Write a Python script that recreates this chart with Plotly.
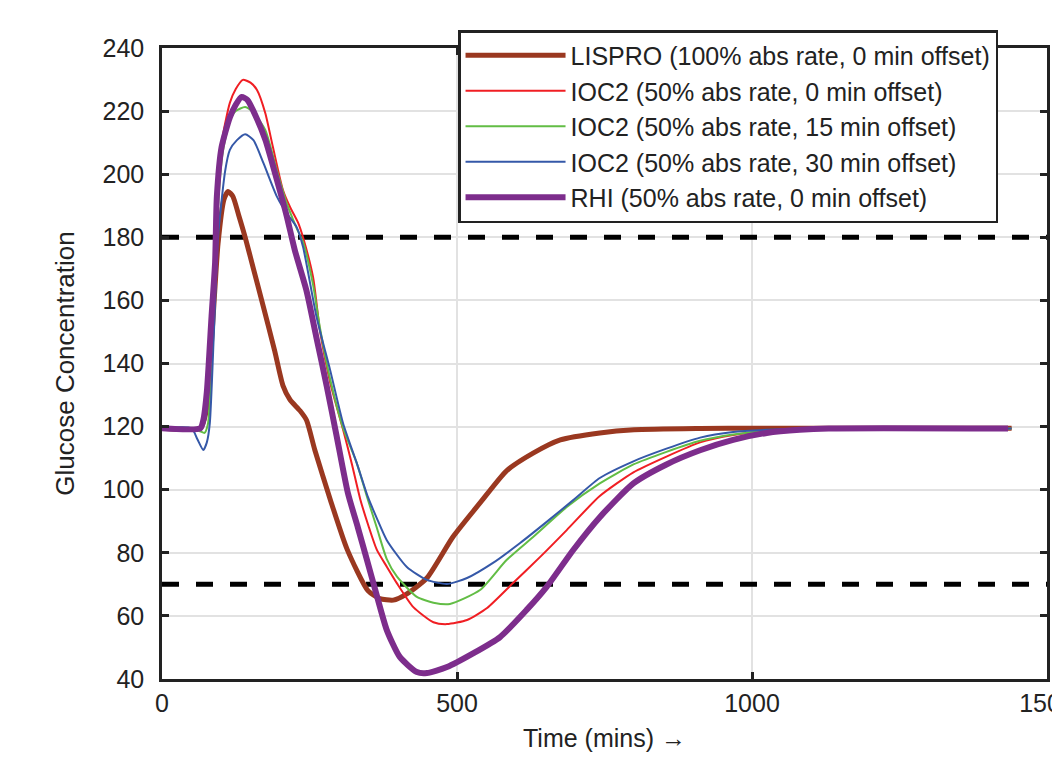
import plotly.graph_objects as go

# ---- data ----
lispro_t = [0, 65, 75, 85, 95, 105, 112, 120, 130, 141, 155, 169, 191, 205, 217, 234, 245, 259, 285, 314, 349, 369, 392, 415, 449, 493, 539, 584, 629, 675, 742, 800, 912, 1000, 1440]
lispro_g = [119.5, 119.5, 125, 150, 178, 192, 194.5, 193, 187, 180, 170, 160, 144, 133, 128.5, 125, 122, 112.6, 97, 81, 68, 65.5, 65, 67, 72, 85, 95.8, 106, 111.6, 115.8, 118, 119, 119.4, 119.5, 119.5]

ioc2_0_t = [0, 65, 70, 76, 84, 90, 95, 103, 115, 125, 137, 150, 161, 175, 188, 205, 217, 231, 239, 256, 268, 285, 307, 322, 336, 350, 364, 381, 398, 426, 460, 483, 517, 551, 595, 641, 686, 742, 799, 855, 912, 968, 1025, 1081, 1440]
ioc2_0_g = [119.5, 119.5, 122, 131, 155, 172, 195, 212, 222.6, 227, 229.9, 229, 226.7, 219.4, 208.6, 195, 189.6, 184.5, 180, 167.4, 150, 134, 119, 108, 97, 88.5, 81, 75.6, 70.4, 62.8, 58, 57.4, 58.7, 62.5, 70.4, 78.7, 87.2, 98, 105.5, 110.5, 115, 117.3, 118.6, 119.2, 119.4]

ioc2_15_t = [0, 50, 65, 72, 78, 84, 90, 95, 103, 115, 125, 141, 155, 175, 195, 211, 228, 239, 256, 268, 285, 307, 330, 347, 364, 381, 398, 432, 460, 488, 539, 584, 629, 686, 742, 799, 855, 912, 968, 1025, 1440]
ioc2_15_g = [119.5, 119.5, 118.5, 118, 121, 140, 165, 190, 207, 217, 220, 221.3, 219.5, 214, 201, 191, 183, 178.5, 165, 151, 135, 119.5, 108.5, 98, 88, 78, 72.5, 66, 64.2, 63.8, 68.2, 77.7, 85, 94.5, 102, 108, 112, 115.5, 117.5, 118.7, 119.4]

ioc2_30_t = [0, 50, 60, 70, 76, 81, 88, 95, 107, 115, 127, 141, 155, 172, 195, 211, 228, 239, 262, 285, 307, 330, 349, 364, 381, 415, 449, 483, 517, 561, 607, 652, 697, 742, 799, 855, 912, 968, 1025, 1081, 1440]
ioc2_30_g = [119.5, 119.5, 116, 112.6, 115, 121, 150, 180, 201, 207.7, 210.8, 212.7, 210.8, 203.5, 192.8, 187.7, 183.3, 177, 154.7, 137.9, 121, 108.5, 97.7, 91, 84, 75.5, 71.4, 70.1, 72, 76.8, 83.1, 89.8, 96.7, 103.7, 109, 113, 116.5, 118.3, 119, 119.3, 119.4]

rhi_t = [0, 65, 70, 76, 84, 90, 93, 101, 115, 125, 135, 145, 155, 175, 195, 211, 225, 245, 262, 279, 296, 315, 332, 347, 364, 381, 403, 432, 449, 483, 528, 573, 618, 652, 697, 742, 799, 855, 912, 968, 1025, 1081, 1130, 1434]
rhi_g = [119.5, 119.5, 122, 131, 155, 172, 193, 208.6, 218, 222, 224.5, 223.5, 220, 211, 198, 187, 176, 163, 148, 133, 117, 99, 88, 78, 66.5, 55.5, 47, 42.2, 41.9, 43.8, 48.2, 53.3, 61.9, 69.2, 80.9, 91.3, 102, 108, 112.5, 115.8, 118, 119, 119.4, 119.4]

series_names = [
    "LISPRO (100% abs rate, 0 min offset)",
    "IOC2 (50% abs rate, 0 min offset)",
    "IOC2 (50% abs rate, 15 min offset)",
    "IOC2 (50% abs rate, 30 min offset)",
    "RHI (50% abs rate, 0 min offset)",
]
thresholds = [180, 70]
x_ticks = [0, 500, 1000, 1500]
y_ticks = list(range(40, 241, 20))

# ---- styles ----
colors = ["#9A3820", "#F01E23", "#62BD45", "#3558A8", "#7D2D8C"]
widths = [5, 2, 2, 2, 6]
series = [(lispro_t, lispro_g), (ioc2_0_t, ioc2_0_g), (ioc2_15_t, ioc2_15_g),
          (ioc2_30_t, ioc2_30_g), (rhi_t, rhi_g)]

FONT = "Liberation Sans, Arial, sans-serif"
INK = "#222222"

fig = go.Figure()

for thr in thresholds:
    fig.add_trace(go.Scatter(x=[0, 1500], y=[thr, thr], mode="lines",
                             line=dict(color="black", width=5, dash="17px,17px"),
                             showlegend=False, hoverinfo="skip"))

for (t, g), name, c, w in zip(series, series_names, colors, widths):
    fig.add_trace(go.Scatter(x=t, y=g, mode="lines", name=name,
                             line=dict(color=c, width=w, shape="spline", smoothing=0.6)))

axis_common = dict(showline=True, linecolor=INK, linewidth=2.5, mirror="ticks",
                   ticks="inside", ticklen=7, tickwidth=2.5, tickcolor=INK,
                   showgrid=True, gridcolor="#E2E2E2", gridwidth=2, zeroline=False,
                   automargin=False, ticklabeloverflow="allow",
                   tickfont=dict(family=FONT, size=25, color=INK))

fig.update_layout(
    width=1052, height=760,
    margin=dict(l=162, r=5, t=48, b=81, autoexpand=False),
    paper_bgcolor="white", plot_bgcolor="white",
    font=dict(family=FONT, color=INK),
    xaxis=dict(range=[0, 1500], tickvals=x_ticks, ticklabelstandoff=0,
               title=dict(text="Time (mins) →", font=dict(family=FONT, size=25, color=INK), standoff=14),
               **axis_common),
    yaxis=dict(range=[40, 240], tickvals=y_ticks, ticklabelstandoff=10,
               title=dict(text="Glucose Concentration", font=dict(family=FONT, size=26, color=INK), standoff=21),
               **axis_common),
    legend=dict(x=0.3345, y=1.0285, xanchor="left", yanchor="top",
                bgcolor="white", bordercolor=INK, borderwidth=2.5,
                font=dict(family=FONT, size=25, color=INK),
                itemwidth=100, tracegroupgap=0),
    showlegend=True,
)

fig.write_html("out.html", config={"displayModeBar": False},
               post_script="document.body.style.margin='0';document.body.style.padding='0';")
